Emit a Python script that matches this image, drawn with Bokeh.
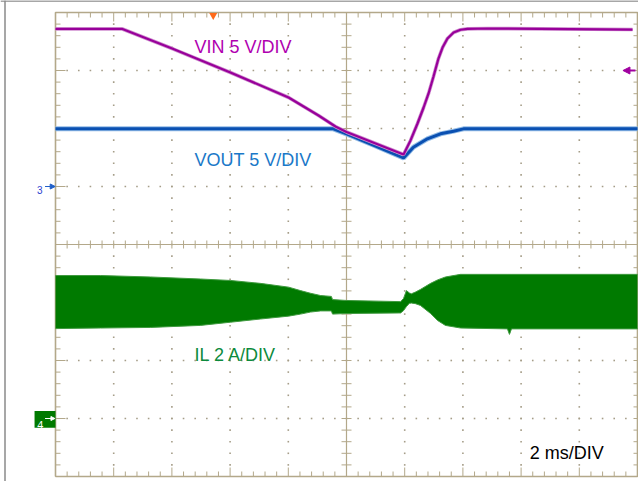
import numpy as np
from bokeh.plotting import figure
from bokeh.models import Range1d, ColumnDataSource, Arrow, NormalHead
from bokeh.core.properties import value
from bokeh.embed import file_html
from bokeh.resources import INLINE

# ---------------- data ----------------
# time axis: ms, 2 ms/DIV, 0 = centre of screen
vin_t = [-10.0, -7.70, -5.95, -3.99, -1.99, -0.96, -0.38, 0.0, 1.00, 1.96,
         2.20, 2.44, 2.65, 2.82, 2.99, 3.16, 3.30, 3.47, 3.68, 3.92, 4.16, 4.85, 9.83]
vin_v = [13.58, 13.58, 11.85, 9.83, 7.67, 6.12, 5.17, 4.70, 3.71, 2.76,
         3.97, 5.43, 6.81, 8.02, 9.48, 11.03, 11.98, 12.76, 13.28, 13.51, 13.59, 13.62, 13.53]

vout_t = [-10.0, -0.45, 0.0, 1.00, 1.96, 2.30, 2.78, 3.23, 3.68, 4.02, 10.0]
vout_v = [4.97, 4.97, 4.53, 3.49, 2.46, 3.39, 4.11, 4.54, 4.77, 4.97, 4.97]

# inductor current: upper / lower envelope of the switching ripple (A)
il_t = [-10.0, -8.45, -6.74, -5.02, -3.99, -2.96, -1.99, -1.58, -1.24, -0.89,
        -0.52, -0.48, 0.0, 1.86, 1.96, 2.06, 2.16, 2.23, 2.37, 2.54,
        2.89, 3.13, 3.40, 3.92, 5.53, 5.60, 5.67, 10.0]
il_hi = [4.93, 4.93, 4.88, 4.81, 4.76, 4.66, 4.53, 4.41, 4.32, 4.24,
         4.21, 4.10, 4.07, 4.03, 4.14, 4.41, 4.33, 4.30, 4.36, 4.45,
         4.66, 4.78, 4.88, 4.97, 4.97, 4.97, 4.97, 4.97]
il_lo = [3.10, 3.12, 3.14, 3.21, 3.32, 3.43, 3.53, 3.60, 3.67, 3.71,
         3.71, 3.60, 3.62, 3.64, 3.72, 3.86, 3.97, 3.98, 3.96, 3.90,
         3.62, 3.38, 3.21, 3.12, 3.09, 2.90, 3.09, 3.09]

labels = ["VIN 5 V/DIV", "VOUT 5 V/DIV", "IL 2 A/DIV", "2 ms/DIV"]
label_colors = ["#b000b0", "#1a78c8", "#0c8a3c", "#000000"]

# channel settings (volts or amps per division, ground offset in divisions)
VIN_SCALE, VIN_OFS = 5.0, 1.0
VOUT_SCALE, VOUT_OFS = 5.0, 1.0
IL_SCALE, IL_OFS = 2.0, -3.0
MS_PER_DIV = 2.0

# ---------------- layout ----------------
W, H = 638, 481
PX_X = 58.2          # px per horizontal division
PX_Y = 58.0          # px per vertical division
LEFT = 55            # canvas px to screen left edge
CY = 244             # canvas px of the centre line

x0 = -10 - LEFT / PX_X * MS_PER_DIV
x1 = x0 + W / PX_X * MS_PER_DIV
ytop = CY / PX_Y
ybot = -(H - CY) / PX_Y

p = figure(width=W, height=H, output_backend="svg", toolbar_location=None,
           x_range=Range1d(x0, x1), y_range=Range1d(ybot, ytop),
           x_axis_location=None, y_axis_location=None,
           min_border=0, min_border_left=0, min_border_right=0,
           min_border_top=0, min_border_bottom=0)
p.outline_line_color = None
p.grid.visible = False
p.background_fill_color = "white"
p.border_fill_color = "white"

p.extra_y_ranges = {
    "vin": Range1d(VIN_SCALE * (ybot - VIN_OFS), VIN_SCALE * (ytop - VIN_OFS)),
    "vout": Range1d(VOUT_SCALE * (ybot - VOUT_OFS), VOUT_SCALE * (ytop - VOUT_OFS)),
    "il": Range1d(IL_SCALE * (ybot - IL_OFS), IL_SCALE * (ytop - IL_OFS)),
}

GRID = "#b3a88a"
DOT = "#a59d88"

# outer grey window frame (left and top)
gx = x0 + 4.5 / PX_X * MS_PER_DIV
p.segment([gx, x0], [ybot, ytop - 0.6 / PX_Y], [gx, x1], [ytop, ytop - 0.6 / PX_Y],
          line_color="#8a8a8a", line_width=1.5)

# graticule dots
minor_t = np.arange(-10, 10.001, MS_PER_DIV / 5)
minor_d = np.arange(-4, 4.001, 0.2)
dx, dy = [], []
for t in [-8, -6, -4, -2, 2, 4, 6, 8]:
    for d in minor_d[1:-1]:
        dx.append(t); dy.append(d)
for d in [-3, -2, -1, 1, 2, 3]:
    for t in minor_t[1:-1]:
        dx.append(t); dy.append(d)
p.scatter(dx, dy, marker="square", size=1.6, fill_color=DOT, line_color=None)

# ticks
sx0, sy0, sx1, sy1 = [], [], [], []
tmin = 5 / PX_X * MS_PER_DIV
tmaj = 10 / PX_X * MS_PER_DIV
dmin = 5 / PX_Y
dmaj = 9 / PX_Y
for i, t in enumerate(minor_t):
    major = (i % 5 == 0)
    L = dmaj if major else dmin
    sx0 += [t, t]; sy0 += [4, -4]; sx1 += [t, t]; sy1 += [4 - L, -4 + L]
    sx0.append(t); sy0.append(-4 / PX_Y); sx1.append(t); sy1.append(4 / PX_Y)
for i, d in enumerate(minor_d):
    major = (i % 5 == 0)
    L = tmaj if major else tmin
    sx0 += [-10, 10]; sy0 += [d, d]; sx1 += [-10 + L, 10 - 4 / PX_X * MS_PER_DIV]; sy1 += [d, d]
    sx0.append(-tmin); sy0.append(d); sx1.append(tmin); sy1.append(d)
p.segment(sx0, sy0, sx1, sy1, line_color=GRID, line_width=1)

# centre lines and frame
p.segment([0, -10], [-4, 0], [0, 10], [4, 0], line_color=GRID, line_width=1.2)
p.multi_line([[-10, 10, 10, -10, -10]], [[-4, -4, 4, 4, -4]], line_color=GRID, line_width=1.6)

# ---------------- traces ----------------
p.varea(x=il_t, y1=il_lo, y2=il_hi, y_range_name="il", fill_color="#007a00")
p.line(il_t, il_hi, y_range_name="il", line_color="#3f9a3f", line_width=1)
p.line(il_t, il_lo, y_range_name="il", line_color="#3f9a3f", line_width=1)

p.line(vout_t, vout_v, y_range_name="vout", line_color="#92bbe6", line_width=5)
p.line(vout_t, vout_v, y_range_name="vout", line_color="#0a50b2", line_width=3)

p.line(vin_t, vin_v, y_range_name="vin", line_color="#cf8fcf", line_width=3.6)
p.line(vin_t, vin_v, y_range_name="vin", line_color="#98009a", line_width=2.2)

# ---------------- texts ----------------
lab_x = [-5.22, -5.22, -5.22, 6.30]
lab_y = [3.40, 1.45, -1.91, -3.60]
src = ColumnDataSource(dict(x=lab_x, y=lab_y, text=labels, c=label_colors))
p.text(x="x", y="y", text="text", text_color="c", source=src,
       text_font=value("Liberation Sans"), text_font_size="18px",
       text_baseline="alphabetic", text_align="left")

# channel markers
p.text(x=[-10.64], y=[0.94], text=["3"], text_color="#2b3fd0",
       text_font=value("Liberation Sans"), text_font_size="10px",
       text_baseline="alphabetic", text_align="left")
p.add_layout(Arrow(x_start=-10.36, y_start=1.0, x_end=-10.01, y_end=1.0,
                   line_color="#1f5fc8", line_width=1.2,
                   end=NormalHead(size=5, fill_color="#1f5fc8", line_color="#1f5fc8")))

p.quad(left=[-10.72], right=[-10.0], top=[-2.87], bottom=[-3.16],
       fill_color="#007a00", line_color=None)
p.text(x=[-10.63], y=[-3.12], text=["4"], text_color="white",
       text_font=value("Liberation Sans"), text_font_size="11px",
       text_baseline="alphabetic", text_align="left")
p.add_layout(Arrow(x_start=-10.36, y_start=-3.0, x_end=-10.02, y_end=-3.0,
                   line_color="white", line_width=1.2,
                   end=NormalHead(size=4, fill_color="white", line_color="white")))

# trigger position and level
p.scatter([-4.58], [3.95], marker="inverted_triangle", size=8,
          fill_color="#ff6a1a", line_color=None)
p.add_layout(Arrow(x_start=9.93, y_start=3.0, x_end=9.50, y_end=3.0,
                   line_color="#a000a0", line_width=1.8,
                   end=NormalHead(size=7, fill_color="#a000a0", line_color="#a000a0")))

open("out.html", "w").write(file_html(p, INLINE))
